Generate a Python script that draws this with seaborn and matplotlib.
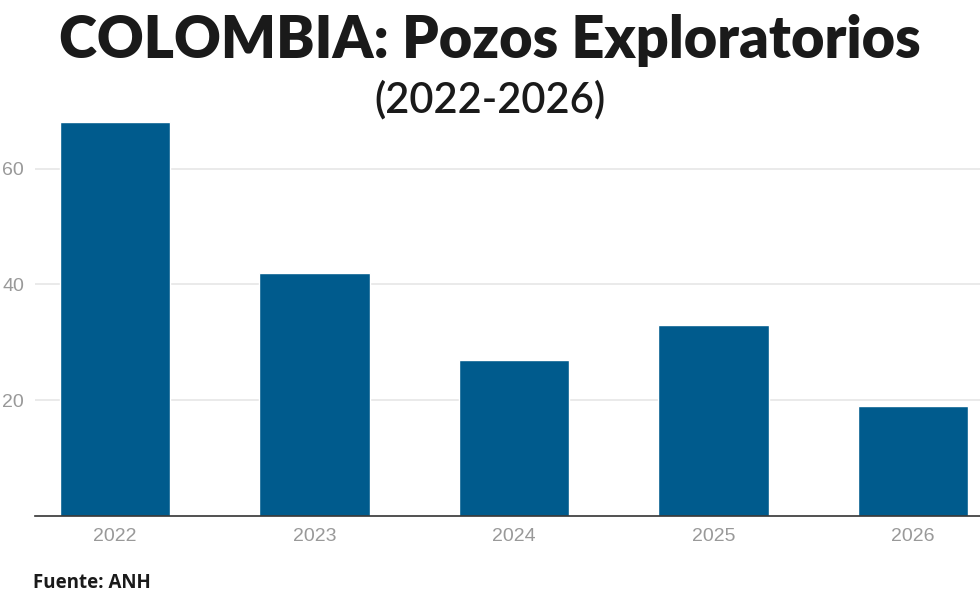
import matplotlib
matplotlib.use("Agg")
import matplotlib.pyplot as plt
import seaborn as sns
import pandas as pd

# Data
years = ["2022", "2023", "2024", "2025", "2026"]
wells = [68, 42, 27, 33, 19]
y_ticks = [20, 40, 60]

df = pd.DataFrame({"Year": years, "Wells": wells})

sns.set_theme(style="white")
plt.rcParams["font.family"] = ["Liberation Sans", "DejaVu Sans"]

fig = plt.figure(figsize=(9.8, 6.03), dpi=100)
ax = fig.add_axes([35 / 980, 0.1443, 945 / 980, 0.672])

sns.barplot(data=df, x="Year", y="Wells", color="#005b8d", width=0.556,
            saturation=1, ax=ax, zorder=3)

ax.set_xlim(-0.401, 4.336)
ax.set_ylim(0, 70)
ax.set_yticks(y_ticks)
ax.yaxis.grid(True, color="#e6e6e6", linewidth=1.2, zorder=0)
ax.set_xlabel("")
ax.set_ylabel("")
for s in ["top", "right", "left"]:
    ax.spines[s].set_visible(False)
ax.spines["bottom"].set_color("#333333")
ax.spines["bottom"].set_linewidth(1.2)
ax.spines["bottom"].set_zorder(4)
ax.tick_params(axis="both", length=0, labelsize=14, colors="#999999")
ax.tick_params(axis="x", pad=9)
ax.tick_params(axis="y", pad=8)

fig.text(0.5, 0.933, "COLOMBIA: Pozos Exploratorios", ha="center", va="center",
         fontsize=41.5, fontweight="heavy", family="Lato", color="#1a1a1a")
fig.text(0.5, 0.834, "(2022-2026)", ha="center", va="center",
         fontsize=30, family="Lato", fontweight="semibold", color="#1a1a1a")
fig.text(33 / 980, 1 - 583 / 603, "Fuente: ANH", ha="left", va="center",
         fontsize=13.5, fontweight="bold", family="Open Sans", color="#1a1a1a")

fig.savefig("out.png", dpi=100)
